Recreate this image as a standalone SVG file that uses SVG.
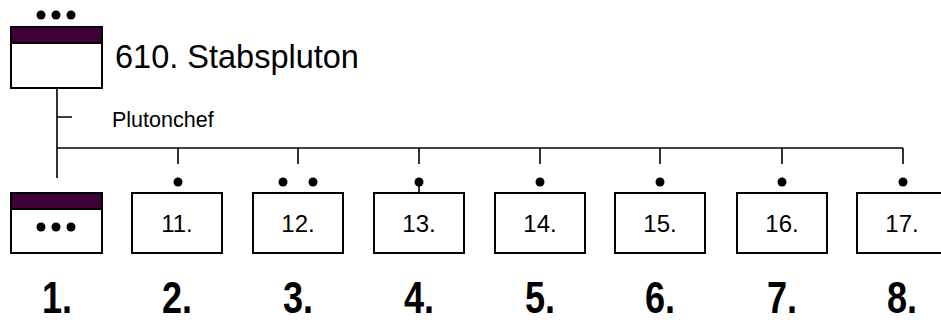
<svg xmlns="http://www.w3.org/2000/svg" width="941" height="322" viewBox="0 0 941 322">
<style>
.box{fill:#fff;stroke:#000;stroke-width:2}
.band{fill:#400038;stroke:#000;stroke-width:2}
.ln{stroke:#000;stroke-width:1.6;fill:none}
.dot{fill:#000}
.t{font-family:"Liberation Sans",Arial,sans-serif;fill:#000}
.lbl{font-size:24px;text-anchor:middle}
.num{font-size:44px;font-weight:bold;text-anchor:middle}
</style>
<rect width="941" height="322" fill="#fff"/>
<g id="connectors">
<path class="ln" d="M57 88V178M57 117H72M57 148H903M178 148V164M298 148V164M419 148V164M540 148V164M660 148V164M782 148V164M903 148V164M419 182V193"/>
</g>
<g id="top">
<circle class="dot" cx="41" cy="15" r="4.5"/><circle class="dot" cx="56" cy="15" r="4.5"/><circle class="dot" cx="71" cy="15" r="4.5"/>
<rect class="box" x="11" y="27" width="91" height="61"/>
<rect class="band" x="11" y="27" width="91" height="16"/>
<text class="t" x="115" y="68" font-size="32.5">610. Stabspluton</text>
<text class="t" x="112" y="127" font-size="21.5">Plutonchef</text>
</g>
<g id="n1">
<rect class="box" x="11" y="193" width="91" height="60"/>
<rect class="band" x="11" y="193" width="91" height="16"/>
<circle class="dot" cx="41" cy="227" r="4.5"/><circle class="dot" cx="56" cy="227" r="4.5"/><circle class="dot" cx="71" cy="227" r="4.5"/>
<text class="t num" x="57" y="313" transform="translate(57 0) scale(0.82 1) translate(-57 0)">1.</text>
</g>
<g id="n2">
<circle class="dot" cx="178" cy="182" r="4.5"/>
<rect class="box" x="132" y="193" width="90" height="60"/>
<text class="t lbl" x="177" y="232">11.</text>
<text class="t num" x="177" y="313" transform="translate(177 0) scale(0.82 1) translate(-177 0)">2.</text>
</g>
<g id="n3">
<circle class="dot" cx="283" cy="182" r="4.5"/><circle class="dot" cx="313" cy="182" r="4.5"/>
<rect class="box" x="253" y="193" width="90" height="60"/>
<text class="t lbl" x="298" y="232">12.</text>
<text class="t num" x="298" y="313" transform="translate(298 0) scale(0.82 1) translate(-298 0)">3.</text>
</g>
<g id="n4">
<circle class="dot" cx="419" cy="182" r="4.5"/>
<rect class="box" x="374" y="193" width="90" height="60"/>
<text class="t lbl" x="419" y="232">13.</text>
<text class="t num" x="419" y="313" transform="translate(419 0) scale(0.82 1) translate(-419 0)">4.</text>
</g>
<g id="n5">
<circle class="dot" cx="540" cy="182" r="4.5"/>
<rect class="box" x="495" y="193" width="90" height="60"/>
<text class="t lbl" x="540" y="232">14.</text>
<text class="t num" x="540" y="313" transform="translate(540 0) scale(0.82 1) translate(-540 0)">5.</text>
</g>
<g id="n6">
<circle class="dot" cx="660" cy="182" r="4.5"/>
<rect class="box" x="615" y="193" width="90" height="60"/>
<text class="t lbl" x="660" y="232">15.</text>
<text class="t num" x="660" y="313" transform="translate(660 0) scale(0.82 1) translate(-660 0)">6.</text>
</g>
<g id="n7">
<circle class="dot" cx="782" cy="182" r="4.5"/>
<rect class="box" x="737" y="193" width="90" height="60"/>
<text class="t lbl" x="782" y="232">16.</text>
<text class="t num" x="782" y="313" transform="translate(782 0) scale(0.82 1) translate(-782 0)">7.</text>
</g>
<g id="n8">
<circle class="dot" cx="903" cy="182" r="4.5"/>
<rect class="box" x="857" y="193" width="90" height="60"/>
<text class="t lbl" x="902" y="232">17.</text>
<text class="t num" x="902" y="313" transform="translate(902 0) scale(0.82 1) translate(-902 0)">8.</text>
</g>
</svg>
